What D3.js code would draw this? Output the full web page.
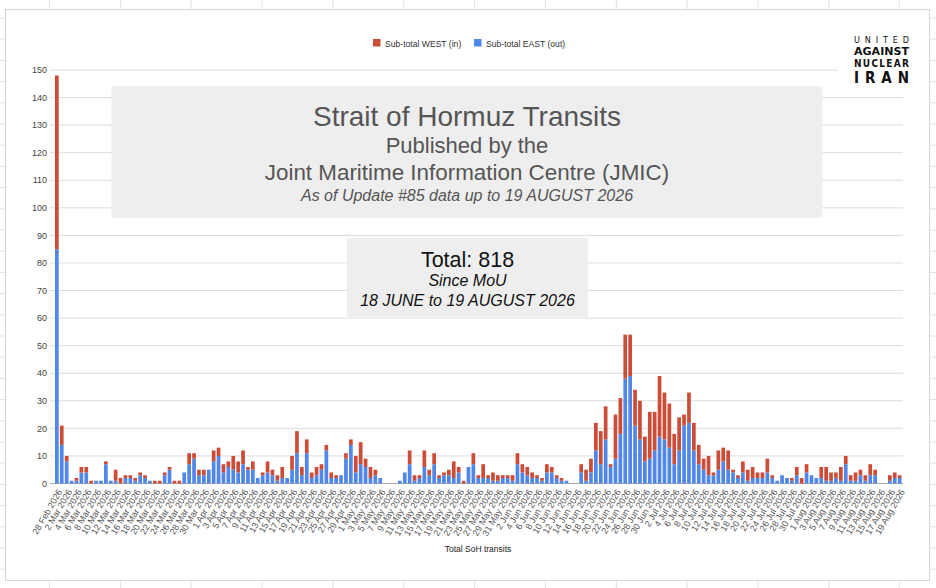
<!DOCTYPE html>
<html lang="en">
<head>
    <meta charset="UTF-8">
    <title>Strait of Hormuz Transits</title>
    <script src="https://d3js.org/d3.v7.min.js" charset="utf-8"></script>
    <style>
        body {
            margin: 0;
            background: #fff;
        }
        svg text {
            font-family: "Liberation Sans", Arial, sans-serif;
        }
        .logo text {
            font-family: "DejaVu Sans Condensed", "DejaVu Sans", sans-serif;
        }
    </style>
</head>
<body>
    <script>
        var width = 936;
        var height = 588;

        // daily transits, 28 Feb 2026 .. 19 Aug 2026
        var eastOut = [
            85, 14, 8, 1, 1, 4, 4, 0, 1, 1,
            7, 1, 1, 0, 2, 2, 1, 3, 2, 1,
            0, 0, 3, 5, 0, 0, 4, 7, 9, 3,
            3, 5, 8, 10, 4, 6, 5, 4, 7, 5,
            5, 2, 3, 4, 3, 1, 2, 2, 5, 11,
            3, 11, 2, 3, 5, 12, 2, 2, 3, 9,
            14, 4, 7, 6, 2, 3, 2, 0, 0, 0,
            1, 4, 7, 1, 2, 6, 3, 7, 2, 3,
            3, 2, 4, 0, 6, 7, 2, 2, 2, 1,
            1, 2, 2, 1, 7, 4, 3, 2, 2, 1,
            4, 4, 2, 1, 1, 0, 0, 4, 1, 4,
            12, 7, 16, 6, 9, 18, 38, 39, 21, 16,
            8, 9, 12, 17, 16, 13, 7, 12, 21, 22,
            12, 7, 5, 3, 3, 5, 8, 5, 4, 2,
            4, 1, 2, 2, 2, 4, 2, 1, 3, 2,
            1, 3, 0, 4, 3, 2, 2, 1, 1, 2,
            1, 7, 1, 1, 3, 1, 3, 3, 0, 0,
            1, 2, 2
        ];
        var westIn = [
            63, 7, 2, 0, 1, 2, 2, 1, 0, 0,
            1, 0, 4, 2, 1, 1, 1, 1, 1, 0,
            1, 1, 1, 1, 1, 1, 0, 4, 2, 2,
            2, 0, 4, 3, 3, 2, 5, 4, 5, 1,
            3, 0, 1, 4, 2, 2, 4, 0, 5, 8,
            3, 5, 2, 3, 2, 2, 2, 1, 0, 2,
            2, 6, 8, 3, 4, 2, 0, 0, 0, 0,
            0, 0, 5, 2, 1, 6, 2, 4, 1, 1,
            2, 6, 2, 1, 0, 4, 1, 5, 1, 3,
            2, 1, 1, 2, 4, 3, 3, 2, 1, 1,
            3, 2, 1, 1, 0, 0, 0, 3, 4, 5,
            10, 12, 12, 1, 16, 13, 16, 15, 13, 14,
            9, 17, 14, 22, 17, 16, 11, 12, 4, 11,
            10, 7, 4, 7, 1, 7, 5, 7, 1, 1,
            4, 4, 4, 2, 2, 5, 1, 0, 0, 0,
            1, 3, 2, 3, 0, 0, 4, 5, 3, 2,
            5, 3, 2, 3, 2, 2, 4, 2, 0, 0,
            2, 2, 1
        ];
        var seriesNames = ["Sub-total WEST (in)", "Sub-total EAST (out)"];
        var yTicks = [0, 10, 20, 30, 40, 50, 60, 70, 80, 90, 100, 110, 120, 130, 140, 150];
        var titleLines = ["Strait of Hormuz Transits", "Published by the",
            "Joint Maritime Information Centre (JMIC)",
            "As of Update #85 data up to 19 AUGUST 2026"];
        var totalLines = ["Total: 818", "Since MoU", "18 JUNE to 19 AUGUST 2026"];
        var xTitle = "Total SoH transits";
        var logoLines = ["UNITED", "AGAINST", "NUCLEAR", "IRAN"];

        var fmt = d3.timeFormat("%-d %b %Y");
        var days = d3.timeDay.range(new Date(2026, 1, 28), new Date(2026, 7, 20)).map(fmt);
        var data = days.map(function(d, i) {
            return {day: d, east: eastOut[i], west: westIn[i]};
        });

        var svg = d3.select("body")
            .append("svg")
            .attr("width", width)
            .attr("height", height);

        // spreadsheet cells behind the chart
        var sheet = svg.append("g").attr("stroke", "#e2e2e2");
        d3.range(49.5, width, 70.85).forEach(function(x) {
            sheet.append("line").attr("x1", x).attr("x2", x).attr("y1", 0).attr("y2", height);
        });
        d3.range(18, height, 21.2).forEach(function(y) {
            sheet.append("line").attr("x1", 0).attr("x2", width).attr("y1", y).attr("y2", y);
        });

        svg.append("rect")
            .attr("x", 5.5).attr("y", 9.5)
            .attr("width", 924).attr("height", 571)
            .attr("fill", "#fff")
            .attr("stroke", "#d4d4d4");

        var x = d3.scaleBand()
            .domain(days)
            .range([54.4, 902.1])
            .paddingInner(0.245)
            .paddingOuter(0.1225);

        var y = d3.scaleLinear()
            .domain([0, 150])
            .range([483.5, 70]);

        // gridlines + y labels
        var grid = svg.append("g");
        grid.selectAll("line")
            .data(yTicks)
            .enter()
            .append("line")
            .attr("x1", 50).attr("x2", 903)
            .attr("y1", function(d) { return y(d); })
            .attr("y2", function(d) { return y(d); })
            .attr("stroke", function(d) { return d == 0 ? "#aaa" : "#dcdcdc"; });
        grid.selectAll("text")
            .data(yTicks)
            .enter()
            .append("text")
            .attr("x", 47)
            .attr("y", function(d) { return y(d); })
            .attr("dy", "0.35em")
            .attr("text-anchor", "end")
            .attr("font-size", 9)
            .attr("fill", "#444")
            .text(function(d) { return d; });

        var stack = d3.stack().keys(["east", "west"]);
        var colors = {east: "#5087e8", west: "#cc4c38"};

        svg.append("g")
            .selectAll("g")
            .data(stack(data))
            .enter()
            .append("g")
            .attr("fill", function(s) { return colors[s.key]; })
            .selectAll("rect")
            .data(function(s) { return s; })
            .enter()
            .append("rect")
            .attr("x", function(d) { return x(d.data.day); })
            .attr("width", x.bandwidth())
            .attr("y", function(d) { return y(d[1]); })
            .attr("height", function(d) { return y(d[0]) - y(d[1]); });

        // x axis, every other day
        var xAxis = d3.axisBottom(x)
            .tickValues(days.filter(function(d, i) { return i % 2 == 0; }))
            .tickSize(0);
        var gx = svg.append("g")
            .attr("transform", "translate(0,484)")
            .call(xAxis);
        gx.select(".domain").remove();
        gx.selectAll("text")
            .attr("x", 0).attr("y", 0)
            .attr("dy", "0.35em")
            .attr("transform", "translate(3,6) rotate(-60)")
            .attr("text-anchor", "end")
            .attr("font-family", "Liberation Sans, Arial, sans-serif")
            .attr("font-size", 9)
            .attr("fill", "#555");

        svg.append("text")
            .attr("x", 478).attr("y", 552)
            .attr("text-anchor", "middle")
            .attr("font-size", 8.5)
            .attr("fill", "#222")
            .text(xTitle);

        // legend
        var legend = svg.append("g");
        var legendX = [373, 474];
        var legendColors = [colors.west, colors.east];
        seriesNames.forEach(function(name, i) {
            legend.append("rect")
                .attr("x", legendX[i]).attr("y", 39)
                .attr("width", 7.5).attr("height", 7.5)
                .attr("fill", legendColors[i]);
            legend.append("text")
                .attr("x", legendX[i] + 12).attr("y", 46.5)
                .attr("font-size", 8.6)
                .attr("fill", "#333")
                .text(name);
        });

        // title box
        svg.append("rect")
            .attr("x", 111.5).attr("y", 86.5)
            .attr("width", 711).attr("height", 131)
            .attr("fill", "#eeeeee");
        var titleY = [125.7, 153.3, 180, 200.7];
        var titleSize = [28, 22, 22.4, 16];
        titleLines.forEach(function(t, i) {
            svg.append("text")
                .attr("x", 467).attr("y", titleY[i])
                .attr("text-anchor", "middle")
                .attr("font-size", titleSize[i])
                .attr("font-style", i == 3 ? "italic" : "normal")
                .attr("fill", "#555")
                .text(t);
        });

        // total box
        svg.append("rect")
            .attr("x", 347).attr("y", 238)
            .attr("width", 241).attr("height", 79)
            .attr("fill", "#eeeeee");
        var totalY = [266.7, 286, 306];
        var totalSize = [21.5, 16, 16];
        totalLines.forEach(function(t, i) {
            svg.append("text")
                .attr("x", 467.5).attr("y", totalY[i])
                .attr("text-anchor", "middle")
                .attr("font-size", totalSize[i])
                .attr("font-style", i > 0 ? "italic" : "normal")
                .attr("fill", "#111")
                .text(t);
        });

        // logo
        var logo = svg.append("g").attr("class", "logo");
        logo.append("rect")
            .attr("x", 838).attr("y", 28)
            .attr("width", 85).attr("height", 58)
            .attr("fill", "#fff");
        var logoY = [42.5, 54.8, 66.5, 83];
        var logoSize = [9, 10, 10, 15];
        var logoWeight = ["normal", "bold", "bold", "bold"];
        logoLines.forEach(function(t, i) {
            logo.append("text")
                .attr("x", 854).attr("y", logoY[i])
                .attr("font-size", logoSize[i])
                .attr("font-weight", logoWeight[i])
                .attr("fill", "#111")
                .attr("textLength", 55)
                .attr("lengthAdjust", i == 1 ? "spacingAndGlyphs" : "spacing")
                .text(t);
        });
    </script>
</body>
</html>
